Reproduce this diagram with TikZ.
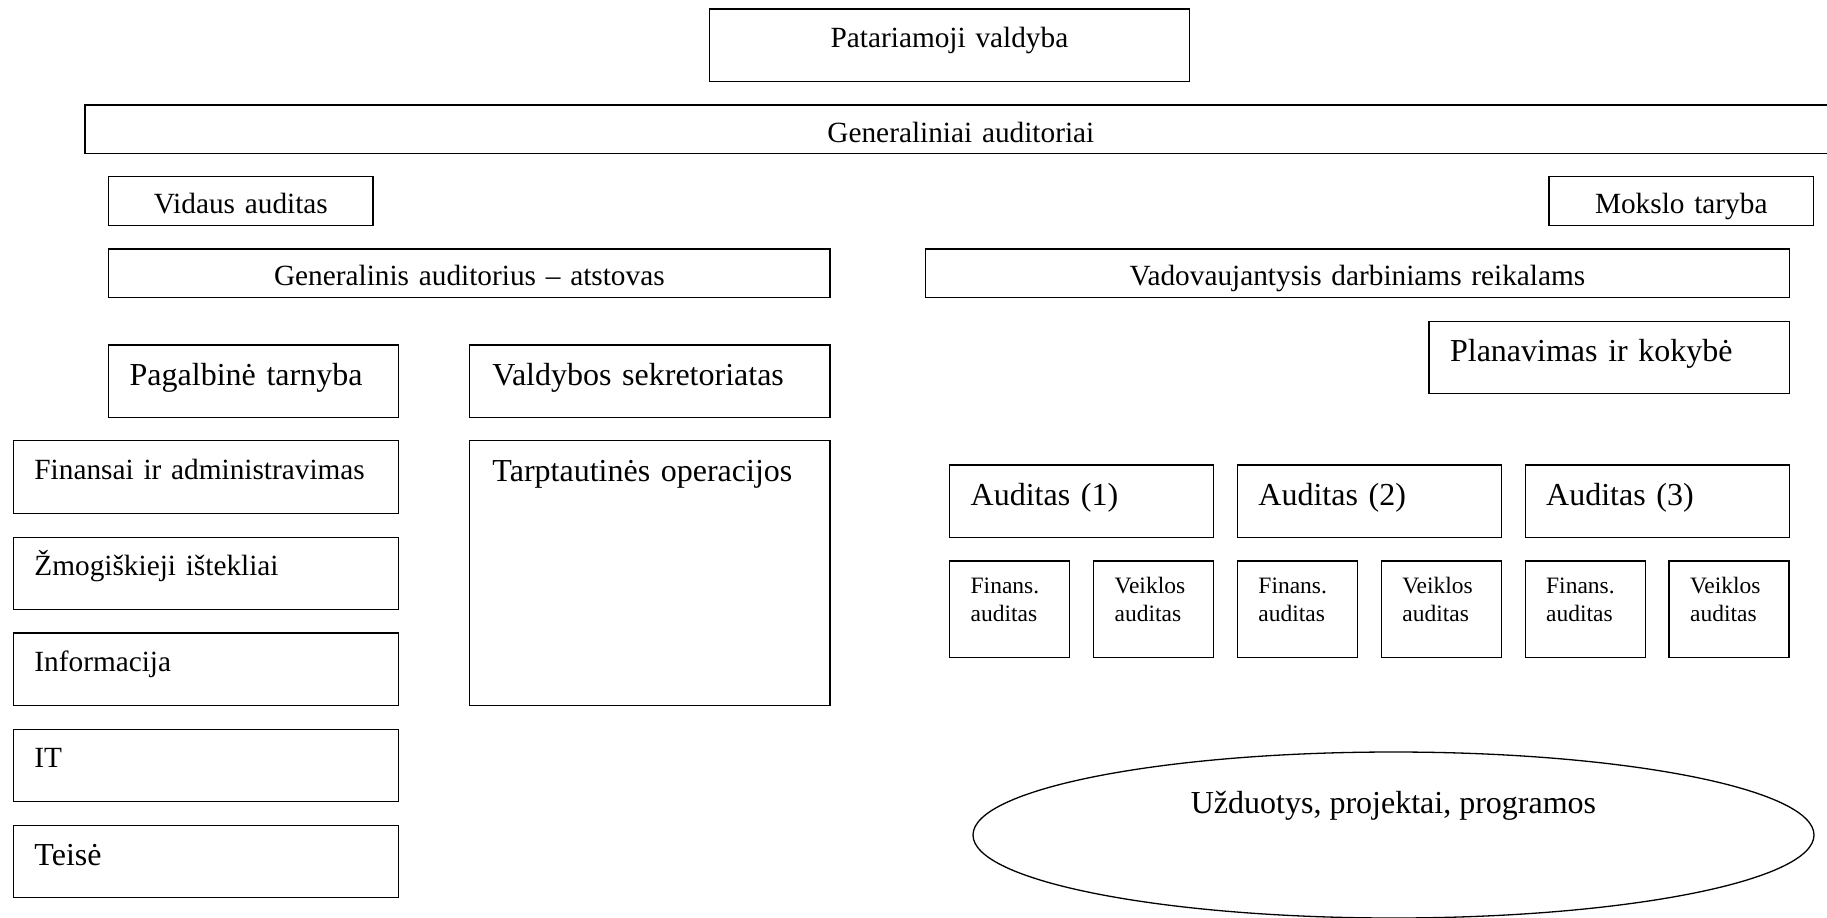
\documentclass[tikz,border=0pt]{standalone}
\usepackage{fontspec}
\setmainfont{Liberation Serif}
\usetikzlibrary{shapes.geometric}

\newcommand{\smallfnt}{\fontsize{11.75pt}{13.65pt}\selectfont}
\newcommand{\midfnt}{\fontsize{14.65pt}{17pt}\selectfont}
\newcommand{\bigfnt}{\fontsize{16pt}{19pt}\selectfont}

\begin{document}
\begin{tikzpicture}[x=1pt,y=-1pt,
  orgbox/.style={draw, line width=0.65pt, anchor=north west, inner xsep=10.5pt, inner ysep=0pt},
  midbox/.style={orgbox, font=\midfnt, align=center},
  leftbox/.style={orgbox, font=\midfnt, align=left},
  bigbox/.style={orgbox, font=\bigfnt, align=left},
  subbox/.style={orgbox, font=\smallfnt, align=left, text width=39pt, text height=16.5pt, text depth=31.85pt}]
\useasboundingbox (0,0) rectangle (913.5,458.5);
\clip (0,0) rectangle (913.5,458.5);
% top of the organisation
\node[midbox, text width=219.2pt, text height=19.2pt, text depth=17pt] (board) at (354.3,4.15) {Patariamoji valdyba};
\node[midbox, text width=854.8pt, text height=18.7pt, text depth=5.5pt] (general) at (42.2,52.15) {Generaliniai auditoriai};
\node[midbox, text width=111.2pt, text height=18.65pt, text depth=5.85pt] (internal) at (54,88) {Vidaus auditas};
\node[midbox, text width=111.2pt, text height=18.65pt, text depth=5.85pt] (science) at (774.2,88) {Mokslo taryba};
\node[midbox, text width=339.7pt, text height=18.35pt, text depth=5.85pt] (deputy) at (54,124.15) {Generalinis auditorius -- atstovas};
\node[midbox, text width=411.2pt, text height=18.35pt, text depth=5.85pt] (ops) at (462.3,124.15) {Vadovaujantysis darbiniams reikalams};
% deputy side
\node[bigbox, text width=123.9pt, text height=20.35pt, text depth=15.85pt] (support) at (54,172.15) {Pagalbinė tarnyba};
\node[bigbox, text width=157.3pt, text height=20.35pt, text depth=15.85pt, inner xsep=11.5pt] (secretariat) at (234.4,172.15) {Valdybos sekretoriatas};
\node[leftbox, text width=171.5pt, text height=19.65pt, text depth=16.7pt] (finance) at (6.4,220) {Finansai ir administravimas};
\node[leftbox, text width=171.5pt, text height=19.15pt, text depth=16.85pt] (staff) at (6.4,268.35) {Žmogiškieji ištekliai};
\node[leftbox, text width=171.5pt, text height=19.2pt, text depth=17pt] (info) at (6.4,316.15) {Informacija};
\node[leftbox, text width=171.5pt, text height=18.85pt, text depth=17pt] (itdept) at (6.4,364.5) {IT};
\node[bigbox, text width=171.5pt, text height=20pt, text depth=15.85pt] (law) at (6.4,412.5) {Teisė};
\node[bigbox, text width=157.3pt, text height=20.5pt, text depth=111.85pt, inner xsep=11.5pt] (intl) at (234.4,220) {Tarptautinės operacijos};
% operations side
\node[bigbox, text width=159.3pt, text height=20.15pt, text depth=15.85pt] (planning) at (714.2,160.35) {Planavimas ir kokybė};
\node[bigbox, text width=111pt, text height=20.35pt, text depth=15.85pt] (audit1) at (474.5,232.15) {Auditas (1)};
\node[bigbox, text width=111pt, text height=20.35pt, text depth=15.85pt] (audit2) at (618.4,232.15) {Auditas (2)};
\node[bigbox, text width=111pt, text height=20.35pt, text depth=15.85pt] (audit3) at (762.25,232.15) {Auditas (3)};
\node[subbox] (fin1) at (474.5,280.15) {Finans.\\auditas};
\node[subbox] (perf1) at (546.5,280.15) {Veiklos\\auditas};
\node[subbox] (fin2) at (618.4,280.15) {Finans.\\auditas};
\node[subbox] (perf2) at (690.35,280.15) {Veiklos\\auditas};
\node[subbox] (fin3) at (762.25,280.15) {Finans.\\auditas};
\node[subbox] (perf3) at (834.2,280.15) {Veiklos\\auditas};
\node[draw, line width=0.65pt, ellipse, minimum width=420.5pt, minimum height=83pt, inner sep=0pt,
  font=\bigfnt, text height=8pt, text depth=29.7pt] (tasks) at (696.75,417.5) {Užduotys, projektai, programos};
\end{tikzpicture}
\end{document}
